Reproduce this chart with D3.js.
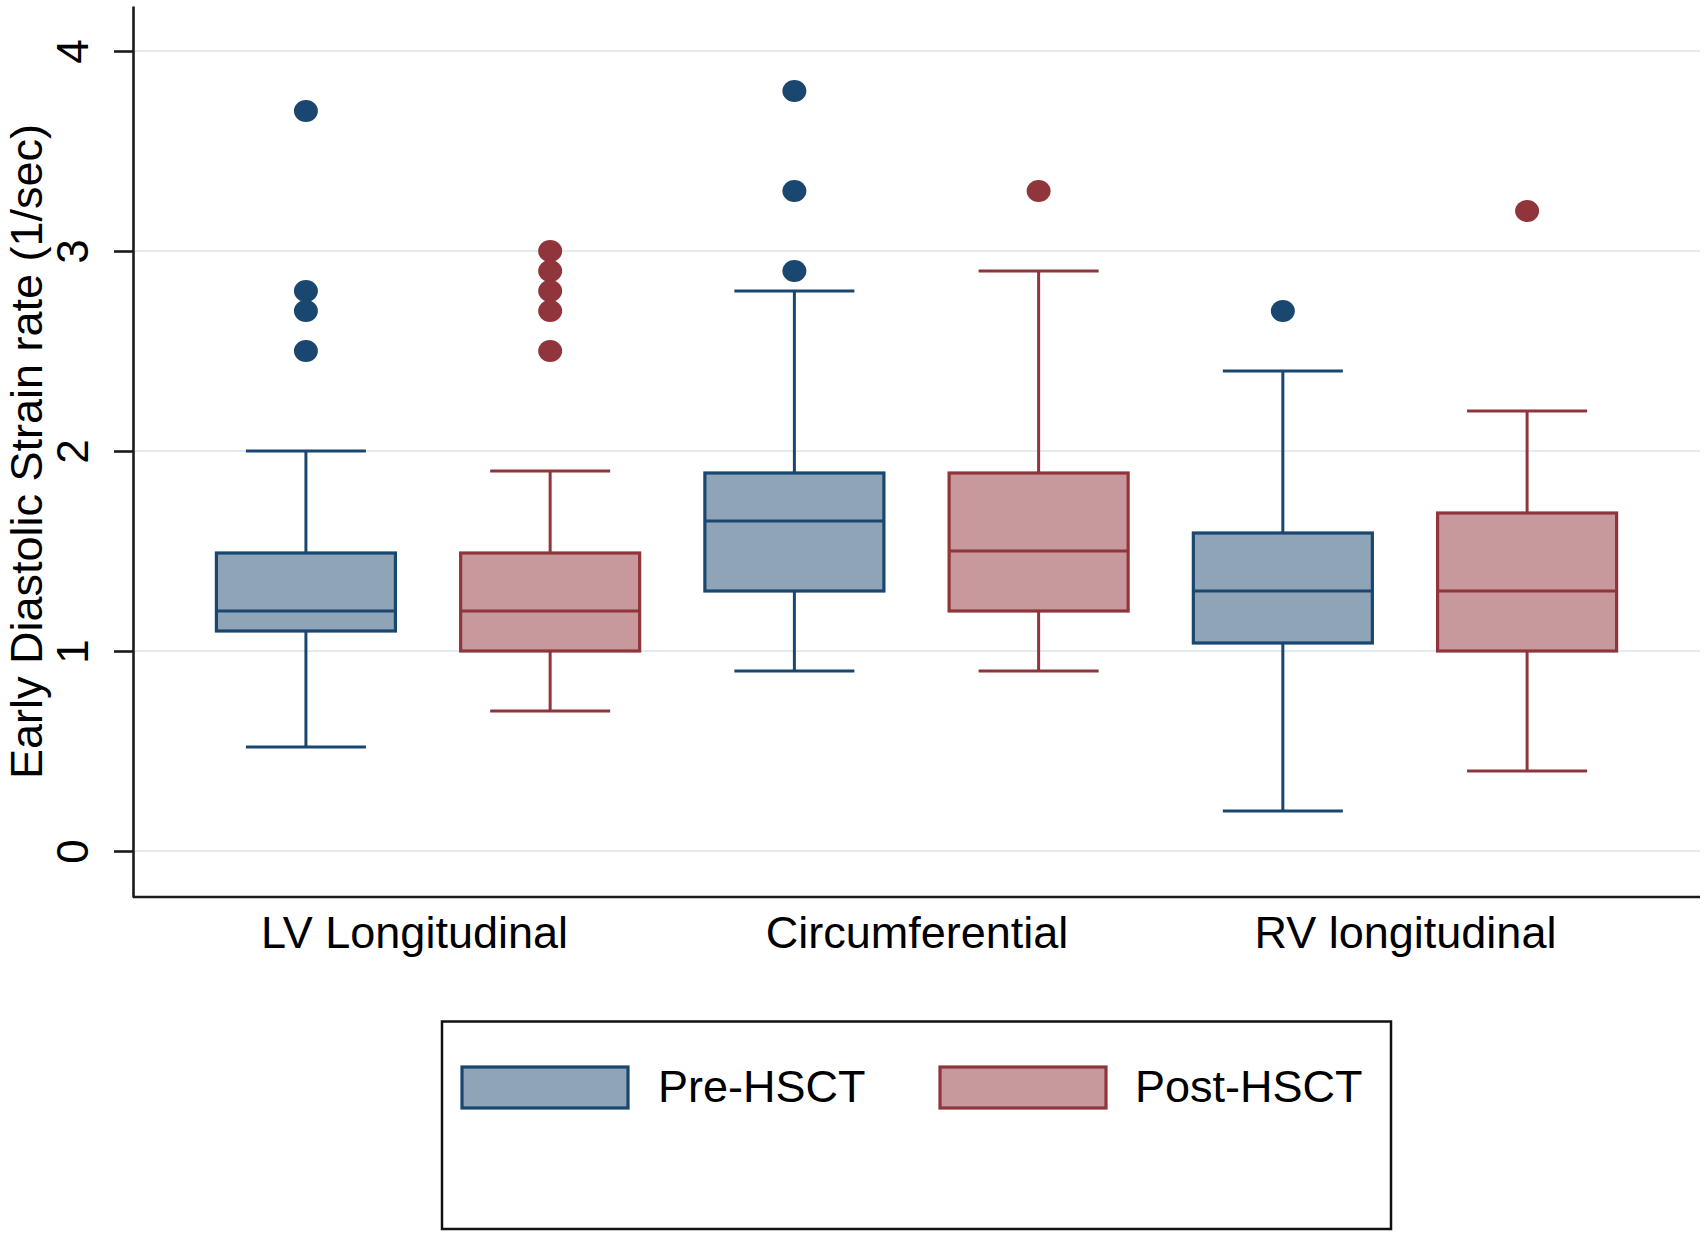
<!DOCTYPE html>
<html><head><meta charset="utf-8">
<script src="https://cdn.jsdelivr.net/npm/d3@7"></script>
<style>
body{margin:0;background:#fff}
svg{display:block}
text{font-family:"Liberation Sans",Arial,Helvetica,sans-serif;fill:#000}
</style></head>
<body><svg id="c" width="1708" height="1236"></svg>
<script>
const categories = ["LV Longitudinal", "Circumferential", "RV longitudinal"];
const seriesNames = ["Pre-HSCT", "Post-HSCT"];
const yTicks = [0, 1, 2, 3, 4];
const yTitle = "Early Diastolic Strain rate (1/sec)";

const preWhiskerLow  = [0.52, 0.9, 0.2];
const preQ1          = [1.1, 1.3, 1.04];
const preMedian      = [1.2, 1.65, 1.3];
const preQ3          = [1.49, 1.89, 1.59];
const preWhiskerHigh = [2.0, 2.8, 2.4];
const preOutliers    = [[3.7, 2.8, 2.7, 2.5], [3.8, 3.3, 2.9], [2.7]];

const postWhiskerLow  = [0.7, 0.9, 0.4];
const postQ1          = [1.0, 1.2, 1.0];
const postMedian      = [1.2, 1.5, 1.3];
const postQ3          = [1.49, 1.89, 1.69];
const postWhiskerHigh = [1.9, 2.9, 2.2];
const postOutliers    = [[3.0, 2.9, 2.8, 2.7, 2.5], [3.3], [3.2]];

const strokeColors = ["#1a476f", "#90353b"];
const fillColors = ["#90a4b8", "#c8999c"];

const svg = d3.select("#c");
const L = 133, R = 1700, T = 6, B = 897;

const x = d3.scalePoint().domain(categories).range([L, R]).padding(0.604);
const step = x.step();
const y = d3.scaleLinear().domain([-0.23, 4.225]).range([B, T]);

// gridlines
svg.append("g").selectAll("line").data(yTicks).join("line")
  .attr("x1", L + 2).attr("x2", R)
  .attr("y1", d => y(d)).attr("y2", d => y(d))
  .attr("stroke", "#e3ebee").attr("stroke-width", 2.2);

// boxes
const series = [
  {name: seriesNames[0], off: -0.25, low: preWhiskerLow, q1: preQ1, med: preMedian, q3: preQ3, high: preWhiskerHigh, out: preOutliers},
  {name: seriesNames[1], off: 0.25, low: postWhiskerLow, q1: postQ1, med: postMedian, q3: postQ3, high: postWhiskerHigh, out: postOutliers}
];
const boxW = 0.3665 * step, capW = 0.2457 * step;

series.forEach((s, si) => {
  const g = svg.append("g");
  const sc = strokeColors[si], fc = fillColors[si];
  categories.forEach((c, i) => {
    const cx = x(c) + s.off * step;
    g.append("line").attr("x1", cx).attr("x2", cx).attr("y1", y(s.low[i])).attr("y2", y(s.q1[i]))
      .attr("stroke", sc).attr("stroke-width", 3);
    g.append("line").attr("x1", cx).attr("x2", cx).attr("y1", y(s.q3[i])).attr("y2", y(s.high[i]))
      .attr("stroke", sc).attr("stroke-width", 3);
    g.append("line").attr("x1", cx - capW / 2).attr("x2", cx + capW / 2).attr("y1", y(s.low[i])).attr("y2", y(s.low[i]))
      .attr("stroke", sc).attr("stroke-width", 3);
    g.append("line").attr("x1", cx - capW / 2).attr("x2", cx + capW / 2).attr("y1", y(s.high[i])).attr("y2", y(s.high[i]))
      .attr("stroke", sc).attr("stroke-width", 3);
    g.append("rect").attr("x", cx - boxW / 2).attr("width", boxW)
      .attr("y", y(s.q3[i])).attr("height", y(s.q1[i]) - y(s.q3[i]))
      .attr("fill", fc).attr("stroke", sc).attr("stroke-width", 3.2);
    g.append("line").attr("x1", cx - boxW / 2).attr("x2", cx + boxW / 2).attr("y1", y(s.med[i])).attr("y2", y(s.med[i]))
      .attr("stroke", sc).attr("stroke-width", 3.2);
    g.selectAll(null).data(s.out[i]).join("ellipse")
      .attr("cx", cx).attr("cy", d => y(d)).attr("rx", 12).attr("ry", 11)
      .attr("fill", sc);
  });
});

// y axis
const yAxis = svg.append("g").attr("transform", `translate(${L},0)`)
  .call(d3.axisLeft(y).tickValues(yTicks).tickFormat(d3.format("d")).tickSize(19).tickSizeOuter(0));
yAxis.select(".domain").attr("stroke", "#1a1a1a").attr("stroke-width", 2.6);
yAxis.selectAll(".tick line").attr("stroke", "#1a1a1a").attr("stroke-width", 2.6);
yAxis.selectAll(".tick text")
  .attr("x", 0).attr("dy", 0).attr("text-anchor", "middle")
  .attr("transform", "translate(-45,0) rotate(-90)")
  .style("font-size", "44px").style("font-family", "'Liberation Sans',Arial,sans-serif").attr("fill", "#000");

// x axis
const xAxis = svg.append("g").attr("transform", `translate(0,${B})`)
  .call(d3.axisBottom(x).tickSize(0).tickSizeOuter(0));
xAxis.select(".domain").attr("stroke", "#1a1a1a").attr("stroke-width", 2.6)
  .attr("d", `M${L},0H${R}`);
xAxis.selectAll(".tick text")
  .attr("y", 51).attr("dy", 0)
  .attr("dx", (d, i) => i === 0 ? -14 : 0)
  .style("font-size", "45px").style("font-family", "'Liberation Sans',Arial,sans-serif").attr("fill", "#000");

// y title
svg.append("text")
  .attr("transform", `translate(42,${(T + B) / 2}) rotate(-90)`)
  .attr("text-anchor", "middle")
  .style("font-size", "45px")
  .text(yTitle);

// legend
const lg = svg.append("g");
lg.append("rect").attr("x", 442).attr("y", 1021.5).attr("width", 949).attr("height", 207.5)
  .attr("fill", "#fff").attr("stroke", "#111").attr("stroke-width", 2.5);
const keyX = [462, 940], textX = [658, 1135];
seriesNames.forEach((n, i) => {
  lg.append("rect").attr("x", keyX[i]).attr("y", 1067).attr("width", 166).attr("height", 41)
    .attr("fill", fillColors[i]).attr("stroke", strokeColors[i]).attr("stroke-width", 3.2);
  lg.append("text").attr("x", textX[i]).attr("y", 1102).style("font-size", "45px").text(n);
});
</script></body></html>
